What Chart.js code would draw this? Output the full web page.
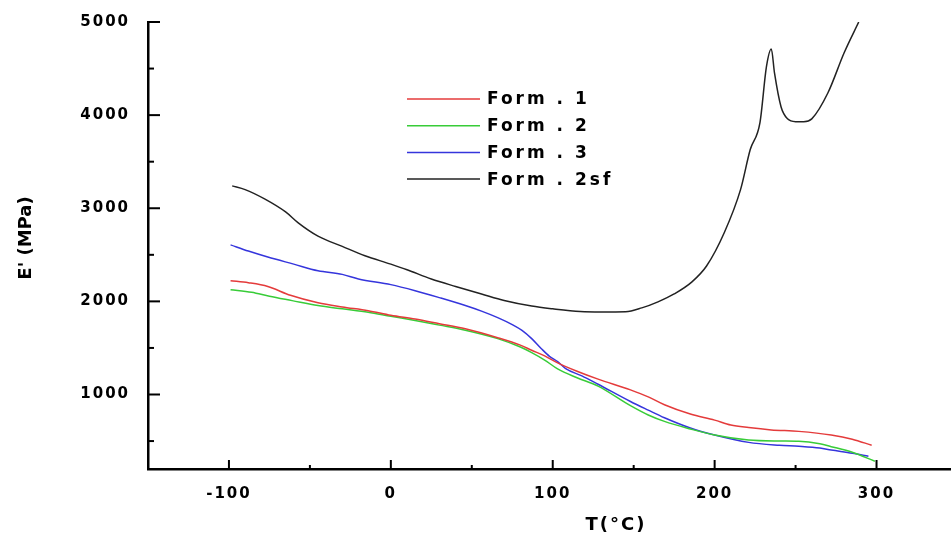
<!DOCTYPE html>
<html>
<head>
<meta charset="utf-8">
<script src="https://cdn.jsdelivr.net/npm/chart.js@4.4.0/dist/chart.umd.min.js"></script>
<style>
  html, body { margin: 0; padding: 0; background: #fff; }
  #wrap { width: 951px; height: 536px; }
</style>
</head>
<body>
<div id="wrap"><canvas id="modulusChart"></canvas></div>
<script>
// storage modulus E' vs temperature
const form1T = [-99, -88, -76, -62, -45, -30, -14, 0, 15, 30, 46, 66, 80, 87, 95, 103, 115, 128, 148, 159, 169, 185, 200, 210, 221, 235, 252, 272, 285, 297];
const form1E = [2222, 2200, 2160, 2065, 1985, 1940, 1900, 1850, 1810, 1760, 1706, 1610, 1530, 1475, 1415, 1340, 1250, 1165, 1050, 975, 890, 790, 725, 672, 645, 620, 604, 565, 520, 455];

const form2T = [-99, -86, -75, -61, -45, -30, -14, 0, 15, 30, 46, 66, 80, 87, 95, 103, 115, 128, 148, 159, 169, 185, 200, 221, 240, 252, 265, 272, 285, 299];
const form2E = [2126, 2098, 2055, 2008, 1955, 1920, 1884, 1840, 1795, 1745, 1690, 1600, 1510, 1450, 1370, 1275, 1180, 1090, 880, 780, 711, 630, 565, 511, 500, 497, 470, 440, 380, 283];

const form3T = [-99, -88, -76, -60, -45, -30, -20, 0, 15, 30, 46, 56, 66, 75, 81, 87, 93, 98, 103, 108, 118, 128, 148, 159, 169, 185, 200, 221, 240, 252, 265, 272, 285, 295];
const form3E = [2607, 2540, 2476, 2400, 2329, 2290, 2241, 2180, 2115, 2040, 1955, 1895, 1825, 1750, 1688, 1600, 1492, 1410, 1353, 1278, 1200, 1110, 925, 832, 750, 640, 565, 486, 455, 444, 425, 404, 370, 337];

const form2sfT = [-98, -90, -78, -65, -57, -45, -30, -16, 0, 10, 25, 40, 56, 70, 87, 100, 117, 130, 145, 155, 165, 175, 186, 195, 206, 216, 222, 228, 232, 235, 237, 241, 245, 250, 255, 260, 270, 280, 289];
const form2sfE = [3240, 3200, 3100, 2960, 2840, 2700, 2590, 2490, 2400, 2340, 2240, 2160, 2080, 2010, 1950, 1920, 1890, 1885, 1888, 1930, 1995, 2080, 2210, 2380, 2740, 3200, 3630, 3920, 4520, 4710, 4450, 4090, 3960, 3930, 3930, 3960, 4240, 4670, 5000];

const seriesLabels = ['Form . 1', 'Form . 2', 'Form . 3', 'Form . 2sf'];
const xTicks = [-100, -50, 0, 50, 100, 150, 200, 250, 300];
const yTicks = [500, 1000, 1500, 2000, 2500, 3000, 3500, 4000, 4500, 5000];

const toPoints = (ts, es) => ts.map((t, i) => ({ x: t, y: es[i] }));

const line = (label, ts, es, color) => ({
  label: label,
  data: toPoints(ts, es),
  borderColor: color,
  borderWidth: 1.5,
  pointRadius: 0,
  fill: false,
  cubicInterpolationMode: 'monotone'
});

const FONT = '"DejaVu Sans", Verdana, sans-serif';
const tickFont = { family: FONT, size: 15, weight: 'bold' };

// inner tick marks, axis titles and the in-plot legend
const decorations = {
  id: 'decorations',
  beforeUpdate(chart) { chart.ctx.letterSpacing = '2px'; },
  beforeDraw(chart) { chart.ctx.letterSpacing = '2px'; },
  afterDraw(chart) {
    const ctx = chart.ctx;
    const xs = chart.scales.x, ys = chart.scales.y;
    const area = chart.chartArea;
    ctx.save();
    ctx.strokeStyle = '#000';
    ctx.lineWidth = 2;
    xTicks.forEach(v => {
      const px = xs.getPixelForValue(v);
      const len = v % 100 === 0 ? 9 : 4;
      ctx.beginPath();
      ctx.moveTo(px, area.bottom);
      ctx.lineTo(px, area.bottom - len);
      ctx.stroke();
    });
    yTicks.forEach(v => {
      const py = ys.getPixelForValue(v);
      const len = v % 1000 === 0 ? 12 : 6;
      ctx.beginPath();
      ctx.moveTo(area.left, py);
      ctx.lineTo(area.left + len, py);
      ctx.stroke();
    });

    ctx.fillStyle = '#000';
    ctx.font = 'bold 18px ' + FONT;
    ctx.letterSpacing = '2px';
    ctx.textAlign = 'center';
    ctx.textBaseline = 'middle';
    ctx.fillText('T(°C)', 616, 525);

    ctx.save();
    ctx.translate(26, 238);
    ctx.rotate(-Math.PI / 2);
    ctx.letterSpacing = '0px';
    ctx.fillText("E' (MPa)", 0, 0);
    ctx.restore();

    ctx.font = 'bold 17px ' + FONT;
    ctx.letterSpacing = '3px';
    ctx.textAlign = 'left';
    chart.data.datasets.forEach((ds, i) => {
      const y = 99 + i * 26.7;
      ctx.strokeStyle = ds.borderColor;
      ctx.lineWidth = 1.5;
      ctx.beginPath();
      ctx.moveTo(407, y);
      ctx.lineTo(480, y);
      ctx.stroke();
      ctx.fillText(ds.label, 487, y + 1);
    });
    ctx.restore();
  }
};

new Chart(document.getElementById('modulusChart'), {
  type: 'line',
  data: {
    datasets: [
      line(seriesLabels[0], form1T, form1E, '#e43b3b'),
      line(seriesLabels[1], form2T, form2E, '#38cc38'),
      line(seriesLabels[2], form3T, form3E, '#3535dc'),
      line(seriesLabels[3], form2sfT, form2sfE, '#222222')
    ]
  },
  options: {
    responsive: true,
    maintainAspectRatio: false,
    animation: false,
    layout: { padding: { top: 22, right: 0, bottom: 0, left: 0 } },
    plugins: { legend: { display: false }, tooltip: { enabled: false } },
    scales: {
      x: {
        type: 'linear',
        min: -150,
        max: 346,
        afterBuildTicks: s => { s.ticks = xTicks.map(v => ({ value: v })); },
        afterFit: s => { s.height = 67; },
        grid: { display: false },
        border: { display: true, color: '#000', width: 2.5 },
        ticks: {
          autoSkip: false,
          maxRotation: 0,
          padding: 8,
          color: '#000',
          font: tickFont,
          callback: v => (v % 100 === 0 ? String(v) : '')
        }
      },
      y: {
        type: 'linear',
        min: 200,
        max: 5000,
        afterBuildTicks: s => { s.ticks = yTicks.map(v => ({ value: v })); },
        afterFit: s => { s.width = 148; },
        grid: { display: false },
        border: { display: true, color: '#000', width: 2.5 },
        ticks: {
          autoSkip: false,
          padding: 10,
          color: '#000',
          font: tickFont,
          callback: v => (v % 1000 === 0 ? String(v) : '')
        }
      }
    }
  },
  plugins: [decorations]
});
</script>
</body>
</html>
